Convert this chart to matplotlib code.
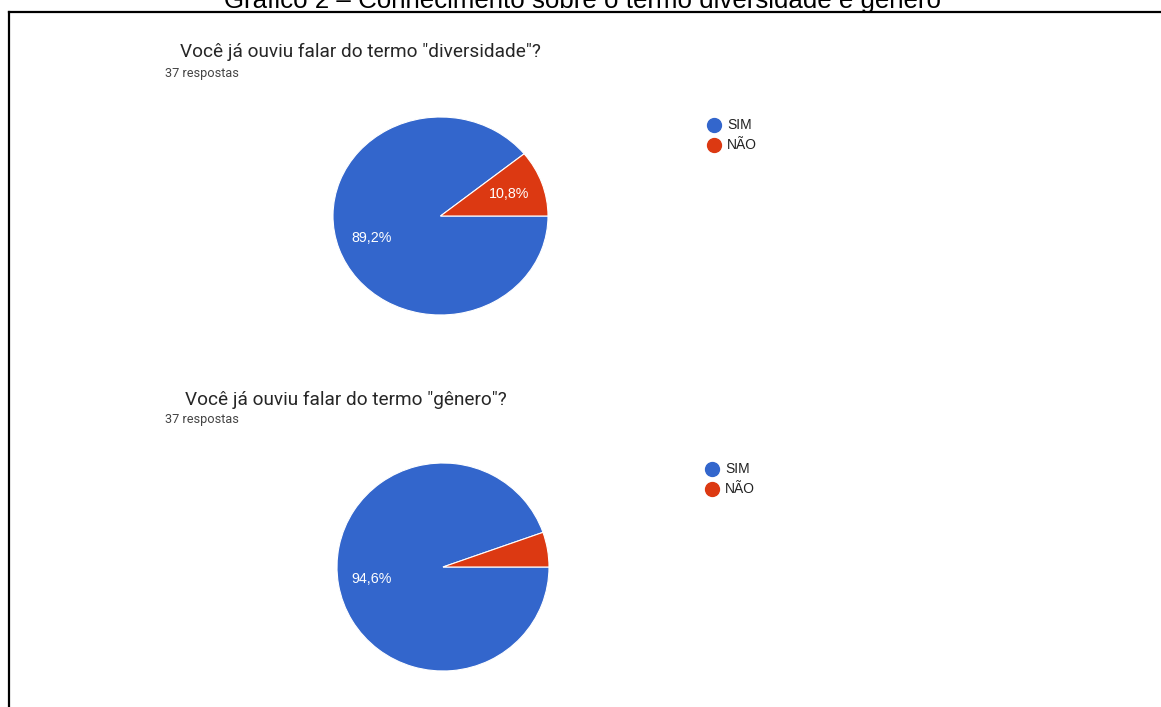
import matplotlib
matplotlib.use("Agg")
import matplotlib.pyplot as plt
from matplotlib.lines import Line2D

W, H = 1161, 707
DPI = 100

main_title = "Gráfico 2 – Conhecimento sobre o termo diversidade e gênero"
questions = ['Você já ouviu falar do termo "diversidade"?',
             'Você já ouviu falar do termo "gênero"?']
subtitle = "37 respostas"
categories = ["SIM", "NÃO"]
counts_diversidade = [33, 4]
counts_genero = [35, 2]
colors = ["#3366CC", "#DC3912"]

fig = plt.figure(figsize=(W / DPI, H / DPI), dpi=DPI)
fig.patch.set_facecolor("white")


def fx(px):
    return px / W


def fy(py):
    return 1 - py / H


# Border (top and left lines)
fig.add_artist(Line2D([fx(8.5), fx(W + 5)], [fy(12), fy(12)], color="black",
                      lw=1.6, transform=fig.transFigure))
fig.add_artist(Line2D([fx(8.5), fx(8.5)], [fy(12), fy(H + 5)], color="black",
                      lw=1.6, transform=fig.transFigure))

# Main title (partially cut off at top, as in the reference)
fig.text(fx(582), fy(8), main_title, ha="center", va="baseline",
         fontsize=18.6, family="Liberation Sans", color="black")


def pct_fmt(pct):
    if pct < 8:
        return ""
    return f"{pct:.1f}".replace(".", ",") + "%"


def draw_block(counts, question, q_xy, s_xy, pie_box, leg_xy):
    fig.text(fx(q_xy[0]), fy(q_xy[1]), question, ha="left", va="center",
             fontsize=13.7, family="Roboto", color="#262626")
    fig.text(fx(s_xy[0]), fy(s_xy[1]), subtitle, ha="left", va="center",
             fontsize=9.2, family="Roboto", color="#444444")
    l, t, r, b = pie_box
    ax = fig.add_axes([fx(l), fy(b), fx(r) - fx(l), (b - t) / H])
    wedges, texts, autotexts = ax.pie(
        counts, colors=colors, startangle=0, counterclock=False,
        autopct=pct_fmt, pctdistance=0.68,
        wedgeprops=dict(edgecolor="white", linewidth=0.8),
        textprops=dict(color="white", fontsize=10.3, family="Liberation Sans"))
    ax.set_aspect("auto")
    ax.set_xlim(-1, 1)
    ax.set_ylim(-1, 1)
    ax.axis("off")
    lx, ly = leg_xy
    for i, (cat, col) in enumerate(zip(categories, colors)):
        yy = ly + i * 20
        fig.add_artist(Line2D([fx(lx)], [fy(yy)], marker="o", markersize=10,
                              color=col, transform=fig.transFigure))
        fig.text(fx(lx + 13), fy(yy), cat, ha="left", va="center",
                 fontsize=10, family="Liberation Sans", color="#222222")


draw_block(counts_diversidade, questions[0], (180, 52), (165, 74),
           (333, 117, 548, 315), (714, 125))
draw_block(counts_genero, questions[1], (185, 400), (165, 419),
           (337, 463, 549, 671), (712, 469))

fig.savefig("out.png", dpi=DPI)
